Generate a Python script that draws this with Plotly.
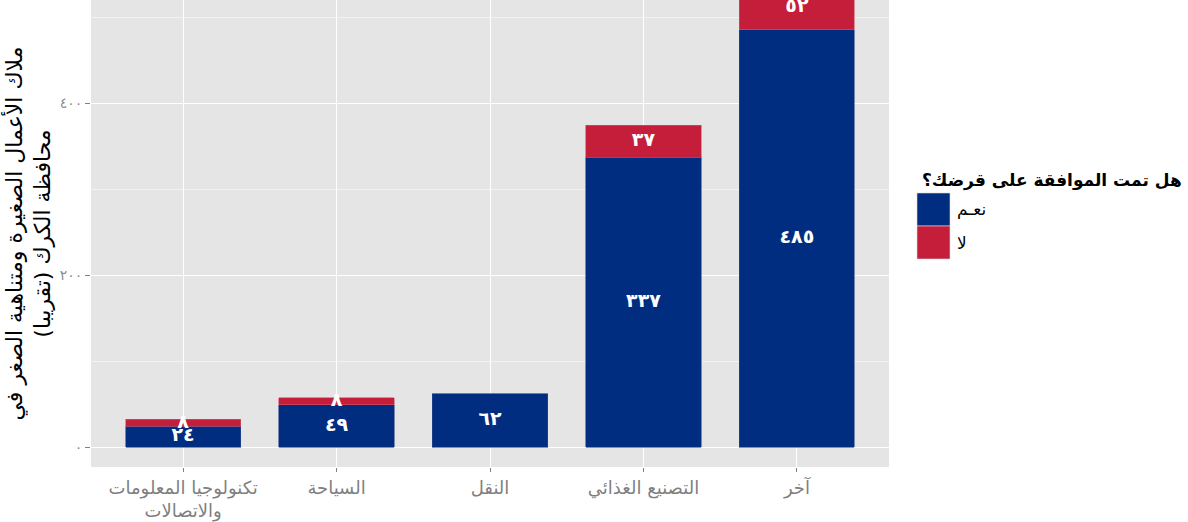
import plotly.graph_objects as go

# Loan approval among small and micro business owners, by sector
categories = ["تكنولوجيا المعلومات<br>والاتصالات", "السياحة", "النقل", "التصنيع الغذائي", "آخر"]
yes_values = [24, 49, 62, 337, 485]
no_values = [8, 8, 0, 37, 52]
series_names = ["نعـم", "لا"]
legend_title = "هل تمت الموافقة على قرضك؟"
y_title = "ملاك الأعمال الصغيرة ومتناهية الصغر في<br>محافظة الكرك (تقريبا)"
y_tick_values = [0, 200, 400]

BLUE = "#002D80"
RED = "#C41E3A"
FONT = "DejaVu Sans"
AR_DIGITS = str.maketrans("0123456789", "٠١٢٣٤٥٦٧٨٩")


def ar(n):
    return str(n).translate(AR_DIGITS)


fig = go.Figure()
fig.add_bar(x=categories, y=yes_values, name=series_names[0], marker_color=BLUE,
            marker_line=dict(color="#2B4A8F", width=0.6), width=0.75)
fig.add_bar(x=categories, y=no_values, name=series_names[1], marker_color=RED,
            marker_line=dict(color="#D0566B", width=0.6), width=0.75)

# Value labels centred on each stacked segment
lx, ly, lt = [], [], []
for c, yv, nv in zip(categories, yes_values, no_values):
    if yv > 0:
        lx.append(c); ly.append(yv / 2); lt.append(ar(yv))
    if nv > 0:
        lx.append(c); ly.append(yv + nv / 2); lt.append(ar(nv))
fig.add_scatter(x=lx, y=ly, text=lt, mode="text", showlegend=False, hoverinfo="skip",
                textfont=dict(family=FONT, size=19, color="white", weight="bold"),
                cliponaxis=False)

W, H = 1188, 522
L, R, T, B = 91, 299, 0, 55
fig.update_layout(
    width=W, height=H, barmode="stack", showlegend=False,
    margin=dict(l=L, r=R, t=T, b=B),
    paper_bgcolor="white", plot_bgcolor="#E5E5E5",
    font=dict(family=FONT),
)
fig.update_xaxes(
    range=[-0.6, 4.6], showgrid=True, gridcolor="white", gridwidth=1.2,
    ticks="outside", ticklen=4, tickcolor="#7F7F7F", showline=False, zeroline=False,
    tickfont=dict(family=FONT, size=18, color="#7F7F7F"),
)
fig.update_yaxes(
    range=[-23.26, 519.77], tickvals=y_tick_values, ticktext=[ar(v) for v in y_tick_values],
    showgrid=True, gridcolor="white", gridwidth=1.2, zeroline=False,
    minor=dict(dtick=100, tick0=0, showgrid=True, gridcolor="#F2F2F2", gridwidth=0.6),
    ticks="outside", ticklen=5, tickcolor="#7F7F7F",
    tickfont=dict(family=FONT, size=14, color="#8C8C8C"),
    title=dict(text=y_title, font=dict(family=FONT, size=22, color="black"), standoff=2),
)

# Legend drawn as a keyed block to the right of the panel
pw, ph = W - L - R, H - T - B


def px_x(x):
    return (x - L) / pw


def px_y(y):
    return (H - B - y) / ph


fig.add_annotation(xref="paper", yref="paper", x=px_x(1184), y=px_y(180), text=legend_title,
                   showarrow=False, xanchor="right", yanchor="middle",
                   font=dict(family=FONT, size=17, color="black", weight="bold"))
for i, (name, col) in enumerate(zip(series_names, [BLUE, RED])):
    top = 193 + i * 33
    fig.add_shape(type="rect", xref="paper", yref="paper",
                  x0=px_x(917), x1=px_x(950), y0=px_y(top + 33), y1=px_y(top),
                  fillcolor=col, line=dict(color="#D9D9D9", width=0.6))
    fig.add_annotation(xref="paper", yref="paper", x=px_x(955), y=px_y(top + 17), text=name,
                       showarrow=False, xanchor="left", yanchor="middle",
                       font=dict(family=FONT, size=17, color="black"))

fig.write_html("out.html")
